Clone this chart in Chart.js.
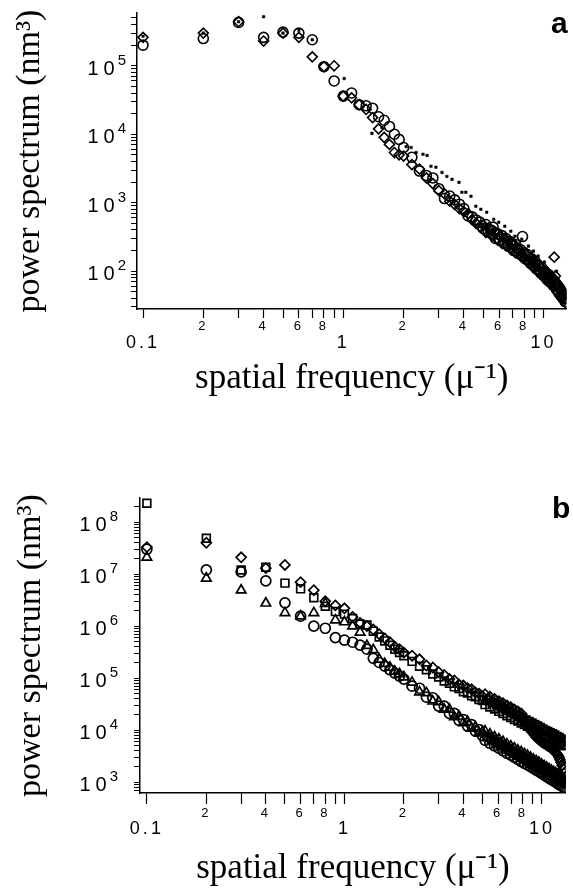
<!DOCTYPE html>
<html>
<head>
<meta charset="utf-8">
<script src="https://cdn.jsdelivr.net/npm/chart.js@4.4.0/dist/chart.umd.min.js"></script>
<style>
body{margin:0;background:#fff;}
#wrap{position:relative;width:573px;height:888px;background:#fff;}
canvas{position:absolute;left:0;}
</style>
</head>
<body>
<div id="wrap">
<canvas id="chartA" width="573" height="420" style="top:0"></canvas>
<canvas id="chartB" width="573" height="468" style="top:420px"></canvas>
</div>
<script>
// ---- panel a ----
var freqA = [0.1,0.2,0.3,0.4,0.5,0.6,0.7,0.8,0.9,1.0,1.1,1.2,1.3,1.4,1.5,1.6,1.7,1.8,1.9,2.0,
  2.2,2.4,2.6,2.8,3.0,3.2,3.4,3.6,3.8,4.0,4.2,4.4,4.6,4.8,5.0,
  5.15,5.3,5.45,5.6,5.75,5.9,6.05,6.2,6.35,6.5,6.65,6.8,6.95,7.1,7.25,7.4,7.55,7.7,7.85,8.0,
  8.15,8.3,8.45,8.6,8.75,8.9,9.05,9.2,9.35,9.5,9.65,9.8,9.95,10.1,10.25,10.4,10.55,10.7,10.85,11.0,
  11.15,11.3,11.45,11.6,11.75,11.9,12.05,12.2,12.35,12.5,12.65,12.8,12.95];
var circA = [2.0e5,2.5e5,4.3e5,2.6e5,3.1e5,3.0e5,2.4e5,9.7e4,6.0e4,3.6e4,4.0e4,2.7e4,2.6e4,2.4e4,1.8e4,1.6e4,1.3e4,1.0e4,8.4e3,6.4e3,
  4.6e3,2.9e3,2.5e3,2.3e3,1.6e3,1.15e3,1.25e3,1.1e3,950,820,640,620,560,520,420,
  480,370,400,440,300,350,290,330,260,300,235,270,250,200,245,215,180,205,320,185,
  150,175,160,130,150,120,140,108,125,118,95,112,88,100,95,76,90,70,82,78,
  62,72,68,54,62,48,56,44,50,40,46,36,40];
var diamA = [2.6e5,3.0e5,4.4e5,2.3e5,3.0e5,2.6e5,1.35e5,9.7e4,1.0e5,3.6e4,3.4e4,2.7e4,2.3e4,1.75e4,1.2e4,9.0e3,7.1e3,5.4e3,5.0e3,4.8e3,
  3.6e3,3.1e3,2.3e3,1.9e3,1.5e3,1.35e3,1.05e3,940,820,740,690,560,500,450,470,
  370,430,340,330,370,285,320,255,300,235,275,215,210,240,185,220,205,165,160,155,
  175,138,135,155,120,140,110,128,100,98,112,86,102,80,78,90,70,84,66,63,
  74,160,85,64,50,58,45,52,41,48,37,43,34];
var freqDotA = [0.1,0.2,0.3,0.4,0.5,0.6,0.7,1.01,1.39,1.56,2.06,2.18,2.31,2.5,2.62,2.74,2.9,
  3.11,3.29,3.49,3.78,3.91,4.09,4.34,4.59,4.86,5.2,5.64,5.97,6.4,6.86,7.2,7.78,8.4,8.9,9.4,
  10.1,10.96,11.6,12.2,12.8];
var dotA = [2.7e5,3.0e5,4.4e5,5.2e5,3.0e5,3.3e5,2.4e5,6.5e4,1.03e4,1.25e4,6.6e3,6.4e3,5.4e3,5.1e3,4.9e3,3.4e3,3.3e3,
  2.77e3,2.42e3,2.19e3,1.98e3,1.42e3,1.42e3,1.24e3,887,802,725,573,518,453,384,324,293,232,196,166,
  136,97,100,55,42];

// ---- panel b ----
var freqB = [0.1,0.2,0.3,0.4,0.5,0.6,0.7,0.8,0.9,1.0,1.1,1.2,1.3,1.4,1.5,1.6,1.7,1.8,1.9,2.0,
  2.2,2.4,2.6,2.8,3.0,3.2,3.4,3.6,3.8,4.0,4.2,4.4,4.6,4.8,5.0,
  5.15,5.3,5.45,5.6,5.75,5.9,6.05,6.2,6.35,6.5,6.65,6.8,6.95,7.1,7.25,7.4,7.55,7.7,7.85,8.0,
  8.15,8.3,8.45,8.6,8.75,8.9,9.05,9.2,9.35,9.5,9.65,9.8,9.95,10.1,10.25,10.4,10.55,10.7,10.85,11.0,
  11.15,11.3,11.45,11.6,11.75,11.9,12.05,12.2,12.35,12.5,12.65,12.8,12.95,13.1];
var diamB = [3.3e7,4.0e7,2.1e7,1.3e7,1.5e7,7.0e6,4.9e6,3.0e6,2.5e6,2.2e6,1.5e6,1.15e6,1.0e6,8.6e5,7.0e5,5.8e5,4.9e5,4.0e5,3.6e5,3.1e5,
  2.7e5,2.3e5,1.75e5,1.6e5,1.3e5,1.15e5,9.6e4,9.0e4,7.6e4,7.2e4,6.4e4,6.1e4,5.3e4,5.0e4,4.5e4,
  4.9e4,3.9e4,4.4e4,3.5e4,4.0e4,3.2e4,3.6e4,2.9e4,3.3e4,2.6e4,3.0e4,2.4e4,2.75e4,2.2e4,2.5e4,2.0e4,2.3e4,1.88e4,2.1e4,1.55e4,
  1.45e4,1.3e4,1.22e4,1.1e4,1.02e4,9.4e3,8.6e3,8.0e3,7.4e3,7.0e3,6.6e3,6.3e3,6.0e3,5.8e3,5.6e3,5.4e3,5.2e3,5.0e3,4.9e3,4.7e3,
  4.5e3,4.3e3,4.1e3,3.9e3,3.7e3,3.5e3,3.3e3,3.0e3,2.7e3,2.4e3,2.1e3,1.8e3,1.5e3,1.25e3];
var sqB = [2.3e8,4.9e7,1.2e7,1.35e7,6.7e6,5.2e6,3.5e6,2.4e6,1.9e6,1.7e6,1.4e6,1.1e6,1.05e6,8.0e5,6.2e5,5.2e5,4.3e5,3.6e5,3.1e5,2.7e5,
  2.1e5,1.7e5,1.45e5,1.2e5,1.05e5,8.8e4,8.0e4,6.8e4,6.3e4,5.5e4,5.2e4,4.6e4,4.4e4,3.9e4,3.7e4,
  3.1e4,3.8e4,2.8e4,3.4e4,2.55e4,3.1e4,2.3e4,2.8e4,2.1e4,2.55e4,1.9e4,2.35e4,1.75e4,2.15e4,1.6e4,1.98e4,1.5e4,1.83e4,1.38e4,1.7e4,
  1.28e4,1.57e4,1.19e4,1.47e4,1.11e4,1.37e4,1.04e4,1.29e4,9.8e3,1.2e4,9.1e3,1.12e4,8.5e3,1.05e4,8.0e3,9.9e3,7.5e3,9.4e3,7.1e3,8.9e3,
  6.8e3,8.5e3,6.5e3,8.1e3,6.2e3,7.6e3,5.8e3,7.2e3,5.5e3,6.8e3,5.2e3,6.4e3,5.0e3,5.9e3];
var circB = [3.0e7,1.2e7,1.1e7,7.4e6,2.8e6,1.55e6,1.0e6,9.1e5,6.0e5,5.4e5,4.9e5,4.3e5,3.6e5,2.4e5,2.0e5,1.7e5,1.45e5,1.25e5,1.1e5,9.6e4,
  7.0e4,6.4e4,4.3e4,4.2e4,2.9e4,2.9e4,2.1e4,2.1e4,1.55e4,1.6e4,1.2e4,1.28e4,9.6e3,1.02e4,7.9e3,
  6.4e3,7.5e3,5.6e3,6.6e3,5.0e3,5.9e3,4.5e3,5.3e3,4.0e3,4.75e3,3.6e3,4.3e3,3.3e3,3.9e3,3.0e3,3.6e3,2.75e3,3.3e3,2.5e3,3.0e3,
  2.3e3,2.8e3,2.15e3,2.6e3,2.0e3,2.4e3,1.85e3,2.2e3,1.7e3,2.06e3,1.6e3,1.92e3,1.48e3,1.78e3,1.38e3,1.66e3,1.28e3,1.55e3,1.2e3,1.45e3,
  1.12e3,1.36e3,1.06e3,1.28e3,1.0e3,1.2e3,930,1.13e3,880,1.07e3,830,1.01e3,800,950];
var triB = [2.1e7,8.3e6,4.9e6,2.75e6,1.8e6,1.55e6,1.8e6,2.7e6,1.3e6,1.2e6,1.0e6,7.6e5,4.2e5,3.5e5,2.3e5,1.9e5,1.6e5,1.35e5,1.2e5,1.05e5,
  8.3e4,5.4e4,5.2e4,3.6e4,3.5e4,2.5e4,2.5e4,1.8e4,1.85e4,1.38e4,1.45e4,1.08e4,1.14e4,8.8e3,9.3e3,
  9.6e3,7.1e3,8.4e3,6.3e3,7.4e3,5.6e3,6.7e3,5.0e3,6.0e3,4.5e3,5.4e3,4.1e3,4.9e3,3.7e3,4.5e3,3.4e3,4.1e3,3.1e3,3.8e3,2.85e3,
  3.5e3,2.65e3,3.25e3,2.5e3,3.0e3,2.3e3,2.75e3,2.1e3,2.55e3,1.96e3,2.4e3,1.82e3,2.2e3,1.7e3,2.05e3,1.58e3,1.92e3,1.47e3,1.8e3,1.38e3,
  1.68e3,1.29e3,1.58e3,1.22e3,1.49e3,1.14e3,1.4e3,1.07e3,1.32e3,1.02e3,1.25e3,960,1.18e3,900];

// tick labels
var xMajorVals = [0.1, 1, 10];
var xMajorText = ['0.1', '1', '10'];
var xMinorMult = [2, 4, 6, 8];
var yExpA = [2, 3, 4, 5];
var yExpB = [3, 4, 5, 6, 7, 8];

var SANS = '"Liberation Sans", Arial, Helvetica, sans-serif';
var SERIF = '"Liberation Serif", "Times New Roman", serif';
Chart.defaults.font.family = SANS;
Chart.defaults.color = '#000';

function pts(fx, fy) {
  var out = [];
  for (var i = 0; i < fx.length; i++) {
    if (fy[i] != null) out.push({x: fx[i], y: fy[i]});
  }
  return out;
}

function ds(fx, fy, style, r, bw, filled) {
  return {
    data: pts(fx, fy),
    showLine: false,
    pointStyle: style,
    pointRadius: r,
    pointBorderWidth: bw,
    pointBorderColor: '#000',
    pointBackgroundColor: filled ? '#000' : 'rgba(0,0,0,0)'
  };
}

// positions of every log tick (1..9 per decade) inside min..max
function logTickList(min, max) {
  var out = [];
  for (var e = -2; e <= 9; e++) {
    for (var m = 1; m <= 9; m++) {
      var v = m * Math.pow(10, e);
      if (v >= min * 0.999 && v <= max) out.push(+v.toPrecision(3));
    }
  }
  return out;
}

function mantissa(v) {
  return Math.round(v / Math.pow(10, Math.floor(Math.log10(v) + 1e-9)));
}

function minorLabel(v) {
  var m = mantissa(v);
  return xMinorMult.indexOf(m) >= 0 ? String(m) : '';
}
function majorLabel(v) {
  for (var i = 0; i < xMajorVals.length; i++) {
    if (Math.abs(v - xMajorVals[i]) < 1e-9) return xMajorText[i];
  }
  return '';
}

// spaced tick digits like the original, exponent labels on y, panel letter
var labelPlugin = {
  id: 'panelText',
  afterDatasetsDraw: function(chart) {
    chart.ctx.letterSpacing = '3px';
  },
  afterDraw: function(chart) {
    var o = chart.options.plugins.panelText;
    var ctx = chart.ctx;
    var ys = chart.scales.y;
    ctx.save();
    ctx.fillStyle = '#000';
    ctx.textBaseline = 'alphabetic';
    ctx.textAlign = 'left';
    o.exps.forEach(function(e) {
      var py = ys.getPixelForValue(Math.pow(10, e));
      ctx.font = '15px ' + SANS;
      ctx.letterSpacing = '0px';
      var ew = ctx.measureText(String(e)).width;
      ctx.fillText(String(e), o.right - ew, py - 1);
      ctx.font = '20px ' + SANS;
      ctx.letterSpacing = '5px';
      var bw = ctx.measureText('10').width;
      ctx.fillText('10', o.right - ew - bw + 2, py + 9);
    });
    ctx.letterSpacing = '0px';
    ctx.font = 'bold 30px ' + SANS;
    ctx.fillText(o.letter, o.lx, o.ly);
    ctx.restore();
  }
};

function makeChart(id, cfg) {
  var xticks = logTickList(cfg.xmin, cfg.xmax);
  var yticks = logTickList(cfg.ymin, cfg.ymax);
  return new Chart(document.getElementById(id), {
    type: 'scatter',
    data: {datasets: cfg.datasets},
    plugins: [labelPlugin],
    options: {
      responsive: false,
      animation: false,
      layout: {padding: {top: cfg.top, right: cfg.right, left: 0, bottom: 0}},
      plugins: {
        legend: {display: false},
        tooltip: {enabled: false},
        panelText: {exps: cfg.exps, right: cfg.labelRight, letter: cfg.letter, lx: cfg.lx, ly: cfg.ly}
      },
      scales: {
        x: {
          type: 'logarithmic', position: 'bottom', min: cfg.xmin, max: cfg.xmax,
          afterBuildTicks: function(s) { s.ticks = xticks.map(function(v) { return {value: v}; }); },
          afterFit: function(s) { s.height = cfg.xh; },
          border: {color: '#000', width: 1.5},
          grid: {drawOnChartArea: false, drawTicks: true, tickLength: cfg.xtl, tickColor: '#000', tickWidth: 1.2},
          ticks: {autoSkip: false, maxRotation: 0, padding: cfg.xpad, font: {size: 13, lineHeight: 1}, color: '#000', z: 1,
            callback: function(v) { return minorLabel(v); }}
        },
        x2: {
          type: 'logarithmic', position: 'bottom', min: cfg.xmin, max: cfg.xmax,
          afterBuildTicks: function(s) { s.ticks = xticks.map(function(v) { return {value: v}; }); },
          afterFit: function(s) { s.height = cfg.x2h; },
          border: {display: false},
          grid: {display: false, drawTicks: false},
          ticks: {autoSkip: false, maxRotation: 0, padding: 0, font: {size: 18, lineHeight: 1}, color: '#000', z: 1,
            callback: function(v) { return majorLabel(v); }},
          title: {display: true, text: 'spatial frequency (\u03bc\u207b\u00b9)', color: '#000',
            font: {family: SERIF, size: 35, lineHeight: 1}, padding: {top: 0, bottom: cfg.titleBottom}}
        },
        y: {
          type: 'logarithmic', min: cfg.ymin, max: cfg.ymax,
          afterBuildTicks: function(s) { s.ticks = yticks.map(function(v) { return {value: v}; }); },
          afterFit: function(s) { s.width = cfg.yw; },
          border: {color: '#000', width: 1.5},
          grid: {drawOnChartArea: false, drawTicks: true, tickLength: 6, tickColor: '#000', tickWidth: 1},
          ticks: {autoSkip: false, padding: 0, callback: function() { return ''; }},
          title: {display: true, text: 'power spectrum (nm\u00b3)', color: '#000',
            font: {family: SERIF, size: 34, lineHeight: 1}, padding: {top: cfg.ytitlePad, bottom: 0}}
        }
      }
    }
  });
}

makeChart('chartA', {
  datasets: [
    ds(freqA, circA, 'circle', 5, 1.6, false),
    ds(freqA, diamA, 'rectRot', 5, 1.6, false),
    ds(freqDotA, dotA, 'rect', 1.8, 0.5, true)
  ],
  xmin: 0.0933, xmax: 13.0, ymin: 28, ymax: 5.9e5,
  top: 13, right: 5, yw: 137, xh: 25, x2h: 86, xtl: 9, xpad: 2, titleBottom: 24, ytitlePad: 13,
  exps: yExpA, labelRight: 126, letter: 'a', lx: 551, ly: 33
});

makeChart('chartB', {
  datasets: [
    ds(freqB, circB, 'circle', 5, 1.7, false),
    ds(freqB, triB, 'triangle', 5.5, 1.7, false),
    ds(freqB, sqB, 'rect', 5.5, 1.7, false),
    ds(freqB, diamB, 'rectRot', 5, 1.7, false)
  ],
  xmin: 0.0923, xmax: 13.2, ymin: 620, ymax: 2.9e8,
  top: 78, right: 1, yw: 140, xh: 27, x2h: 68, xtl: 11, xpad: 3, titleBottom: 2, ytitlePad: 14,
  exps: yExpB, labelRight: 118, letter: 'b', lx: 552, ly: 98
});
</script>
</body>
</html>
